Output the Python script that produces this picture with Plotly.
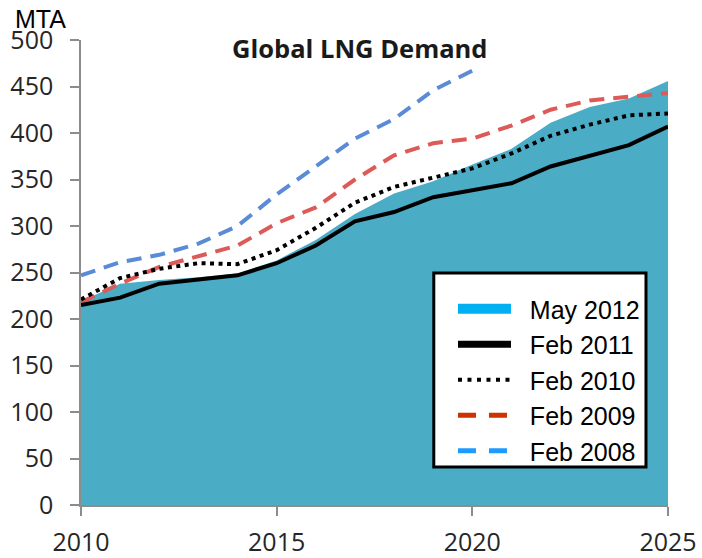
import plotly.graph_objects as go

years = list(range(2010, 2026))
years_2008 = list(range(2010, 2021))

may2012 = [219, 238, 242, 245, 249, 263, 285, 313, 335, 348, 366, 383, 411, 428, 437, 456]
feb2011 = [215, 223, 238, 243, 247, 260, 279, 305, 315, 331, 339, 346, 364, 375, 387, 407]
feb2010 = [221, 244, 254, 260, 259, 274, 298, 325, 342, 352, 362, 378, 397, 409, 419, 421]
feb2009 = [218, 238, 256, 267, 279, 303, 320, 350, 376, 389, 394, 408, 425, 435, 439, 443]
feb2008 = [247, 261, 269, 281, 300, 334, 364, 394, 415, 446, 467]

series_names = ["May 2012", "Feb 2011", "Feb 2010", "Feb 2009", "Feb 2008"]
x_ticks = [2010, 2015, 2020, 2025]
y_ticks = list(range(0, 501, 50))

AREA = "#4BACC6"
RED = "#DC5A57"
BLUE = "#5A8BD6"

fig = go.Figure()

# plotted series (legend drawn by separate entries below)
fig.add_trace(go.Scatter(x=years, y=may2012, mode="lines", fill="tozeroy",
                         fillcolor=AREA, line=dict(width=0, color=AREA),
                         showlegend=False, hoverinfo="skip"))
fig.add_trace(go.Scatter(x=years_2008, y=feb2008, mode="lines",
                         line=dict(color=BLUE, width=4, dash="15px,9px"),
                         showlegend=False))
fig.add_trace(go.Scatter(x=years, y=feb2009, mode="lines",
                         line=dict(color=RED, width=4, dash="15px,9px"),
                         showlegend=False))
fig.add_trace(go.Scatter(x=years, y=feb2010, mode="lines",
                         line=dict(color="black", width=4, dash="4px,4.5px"),
                         showlegend=False))
fig.add_trace(go.Scatter(x=years, y=feb2011, mode="lines",
                         line=dict(color="black", width=4),
                         showlegend=False))

# legend entries (colours as in the original legend)
pad = "&nbsp;&nbsp;"
fig.add_trace(go.Scatter(x=[None], y=[None], mode="lines",
                         line=dict(color="#00B0F0", width=18), name=pad + series_names[0]))
fig.add_trace(go.Scatter(x=[None], y=[None], mode="lines",
                         line=dict(color="black", width=7), name=pad + series_names[1]))
fig.add_trace(go.Scatter(x=[None], y=[None], mode="lines",
                         line=dict(color="black", width=4, dash="4px,5.5px"), name=pad + series_names[2]))
fig.add_trace(go.Scatter(x=[None], y=[None], mode="lines",
                         line=dict(color="#CC3300", width=5, dash="18px,13px"), name=pad + series_names[3]))
fig.add_trace(go.Scatter(x=[None], y=[None], mode="lines",
                         line=dict(color="#1E9BFF", width=5, dash="18px,13px"), name=pad + series_names[4]))

axis_font = dict(family="Open Sans, sans-serif", size=25, color="#262626")

fig.update_layout(
    width=702, height=558, autosize=False,
    margin=dict(l=81, r=34, t=40, b=53, pad=0, autoexpand=False),
    paper_bgcolor="white", plot_bgcolor="white",
    xaxis=dict(range=[2010, 2025], tickvals=x_ticks, ticktext=[str(v) for v in x_ticks],
               showgrid=False, zeroline=False, showline=True, linecolor="#8C8C8C",
               linewidth=1.5, ticks="outside", ticklen=9, tickcolor="#8C8C8C",
               tickwidth=1.5, tickfont=axis_font, ticklabelstandoff=5,
               automargin=False, fixedrange=True),
    yaxis=dict(range=[0, 500], tickvals=y_ticks, showgrid=False, zeroline=False,
               showline=True, linecolor="#8C8C8C", linewidth=1.5, ticks="outside",
               ticklen=9, tickcolor="#8C8C8C", tickwidth=1.5, tickfont=axis_font,
               ticklabelstandoff=12, automargin=False, fixedrange=True),
    legend=dict(x=0.6337, y=0.2688, xanchor="left", yanchor="middle",
                bgcolor="rgba(0,0,0,0)", borderwidth=0,
                font=dict(family="Liberation Sans, Arial, sans-serif", size=25, color="black"),
                itemwidth=53, tracegroupgap=0),
    shapes=[dict(type="rect", xref="paper", yref="paper",
                 x0=0.601, x1=0.9625, y0=0.0817, y1=0.499,
                 fillcolor="white", line=dict(color="black", width=3), layer="above")],
    annotations=[
        dict(text="<b>Global LNG Demand</b>", xref="paper", yref="paper",
             x=0.475, y=0.983, xanchor="center", yanchor="middle", showarrow=False,
             font=dict(family="Open Sans, sans-serif", size=25.5, color="#1a1a1a")),
        dict(text="MTA", xref="paper", yref="paper", x=-0.1158, y=1.045,
             xanchor="left", yanchor="middle", showarrow=False,
             font=dict(family="Liberation Sans, Arial, sans-serif", size=25, color="black")),
    ],
)

# remove the browser's default 8px page margin so the figure fills the window
fig.write_html("out.html", config={"displayModeBar": False},
               post_script="document.body.style.margin='0';")
